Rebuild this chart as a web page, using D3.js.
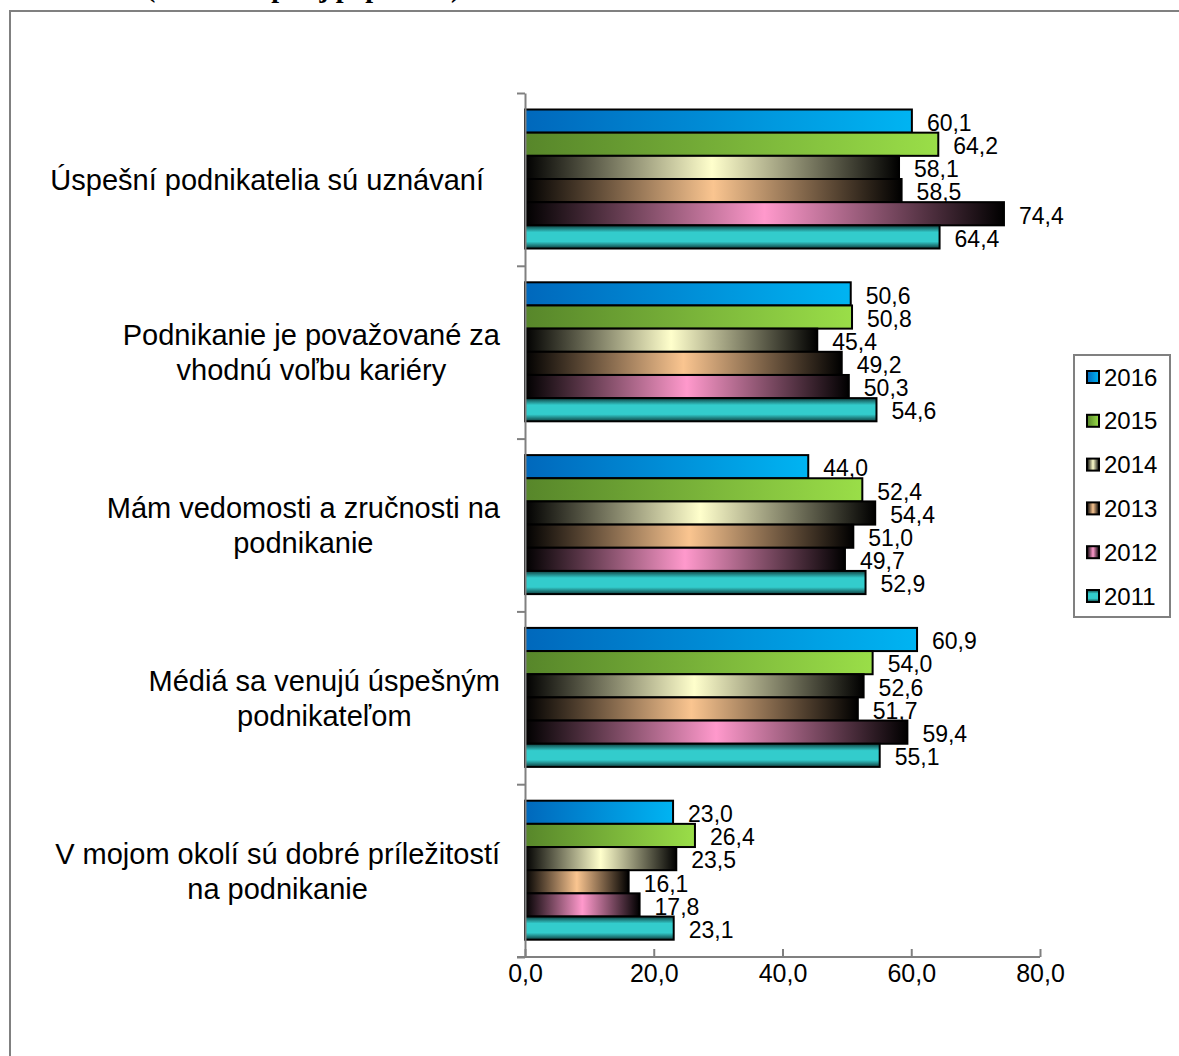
<!DOCTYPE html>
<html><head><meta charset="utf-8">
<script src="https://cdn.jsdelivr.net/npm/d3@7"></script>
<style>body{margin:0;background:#fff}svg{display:block}text{font-family:"Liberation Sans",Arial,sans-serif;fill:#000}</style>
</head><body>
<svg id="c" width="1179" height="1056"></svg>
<script>
const categories = [
  ["Úspešní podnikatelia sú uznávaní"],
  ["Podnikanie je považované za", "vhodnú voľbu kariéry"],
  ["Mám vedomosti a zručnosti na", "podnikanie"],
  ["Médiá sa venujú úspešným", "podnikateľom"],
  ["V mojom okolí sú dobré príležitostí", "na podnikanie"]
];
const seriesNames = ["2016", "2015", "2014", "2013", "2012", "2011"];
const v2016 = [60.1, 50.6, 44.0, 60.9, 23.0];
const v2015 = [64.2, 50.8, 52.4, 54.0, 26.4];
const v2014 = [58.1, 45.4, 54.4, 52.6, 23.5];
const v2013 = [58.5, 49.2, 51.0, 51.7, 16.1];
const v2012 = [74.4, 50.3, 49.7, 59.4, 17.8];
const v2011 = [64.4, 54.6, 52.9, 55.1, 23.1];
const xTicks = [0, 20, 40, 60, 80];
const titleText = "(v % z dospelej populácie)";

const seriesValues = [v2016, v2015, v2014, v2013, v2012, v2011];
const fmt = v => v.toFixed(1).replace(".", ",");

const svg = d3.select("#c");
const defs = svg.append("defs");
function lin(id, stops, vertical) {
  const g = defs.append("linearGradient").attr("id", id)
    .attr("x1", 0).attr("y1", 0).attr("x2", vertical ? 0 : 1).attr("y2", vertical ? 1 : 0);
  stops.forEach(s => g.append("stop").attr("offset", s[0]).attr("stop-color", s[1]));
}
lin("g2016", [[0, "#0068BC"], [1, "#00B4F2"]]);
lin("g2015", [[0, "#57862A"], [1, "#9ADE48"]]);
lin("g2014", [[0, "#000000"], [0.5, "#FFFFCC"], [1, "#000000"]]);
lin("g2013", [[0, "#000000"], [0.5, "#FAC590"], [1, "#000000"]]);
lin("g2012", [[0, "#000000"], [0.5, "#FF99CC"], [1, "#000000"]]);
lin("g2011", [[0, "#0E3E3E"], [0.3, "#33CCCC"], [0.7, "#33CCCC"], [1, "#0E3E3E"]], true);

// outer border
svg.append("rect").attr("x", 10).attr("y", 11).attr("width", 1200).attr("height", 1100)
  .attr("fill", "none").attr("stroke", "#808080").attr("stroke-width", 2);
// cropped title (only its lower part shows in the reference)
svg.append("text").attr("x", 146).attr("y", -3)
  .attr("font-weight", "bold").attr("font-size", 28).text(titleText)
  .style("font-family", "'Liberation Serif','Times New Roman',serif");

const x = d3.scaleLinear().domain([0, 80]).range([525, 1040]);
const y = d3.scaleBand().domain(d3.range(categories.length)).range([93, 957]).padding(0);
const bw = y.bandwidth();
const yi = d3.scaleBand().domain(seriesNames).range([16.5, 155.5]).padding(0);

const g = svg.append("g");
categories.forEach((cat, ci) => {
  const grp = g.append("g").attr("transform", `translate(0,${y(ci)})`);
  seriesNames.forEach((s, si) => {
    const v = seriesValues[si][ci];
    grp.append("rect").attr("x", x(0)).attr("y", yi(s))
      .attr("width", x(v) - x(0)).attr("height", yi.bandwidth())
      .attr("fill", `url(#g${s})`).attr("stroke", "#000").attr("stroke-width", 2);
  });
  seriesNames.forEach((s, si) => {
    const v = seriesValues[si][ci];
    grp.append("text").attr("x", x(v) + 15).attr("y", yi(s) + yi.bandwidth() / 2 + 1.5)
      .attr("dy", "0.36em").attr("font-size", 23).text(fmt(v));
  });
});

// y axis
const yAxis = d3.axisLeft(d3.scaleLinear().domain([0, categories.length]).range([93, 957]))
  .ticks(categories.length).tickFormat("").tickSize(8).tickSizeOuter(0);
const ya = svg.append("g").attr("transform", `translate(${x(0)},0)`).call(yAxis);
ya.selectAll("line,path").attr("stroke", "#808080").attr("stroke-width", 2);

// x axis
const xAxis = d3.axisBottom(x).tickValues(xTicks).tickFormat(fmt).tickSize(8).tickSizeOuter(0);
const xa = svg.append("g").attr("transform", `translate(0,957)`).call(xAxis);
xa.select("path").attr("d", `M${x(0) - 8},0H${x(80)}`);
xa.selectAll("line,path").attr("stroke", "#808080").attr("stroke-width", 2);
xa.selectAll("line").attr("y1", -8).attr("y2", 0);
xa.selectAll("text").attr("font-size", 25).attr("y", 7).attr("dy", "0.71em")
  .style("font-family", "'Liberation Sans',Arial,sans-serif").attr("fill", "#000");

// category labels
categories.forEach((lines, ci) => {
  const cy = y(ci) + bw / 2;
  const lh = 35;
  const tg = svg.append("g");
  const ts = lines.map((l, li) => tg.append("text").attr("font-size", 29)
    .attr("text-anchor", "middle").attr("dy", "0.36em")
    .attr("y", cy + (li - (lines.length - 1) / 2) * lh).text(l));
  const maxW = d3.max(ts, t => t.node().getComputedTextLength());
  const right = lines.length === 1 ? 484 : 500;
  ts.forEach(t => t.attr("x", right - maxW / 2));
});

// legend
svg.append("rect").attr("x", 1074).attr("y", 355).attr("width", 96).attr("height", 262)
  .attr("fill", "#fff").attr("stroke", "#808080").attr("stroke-width", 2);
const ly = d3.scalePoint().domain(seriesNames).range([377, 596]);
seriesNames.forEach(s => {
  svg.append("rect").attr("x", 1087).attr("y", ly(s) - 6).attr("width", 12).attr("height", 12)
    .attr("fill", `url(#g${s})`).attr("stroke", "#000").attr("stroke-width", 2);
  svg.append("text").attr("x", 1104).attr("y", ly(s)).attr("dy", "0.36em")
    .attr("font-size", 24).text(s);
});
</script>
</body></html>
